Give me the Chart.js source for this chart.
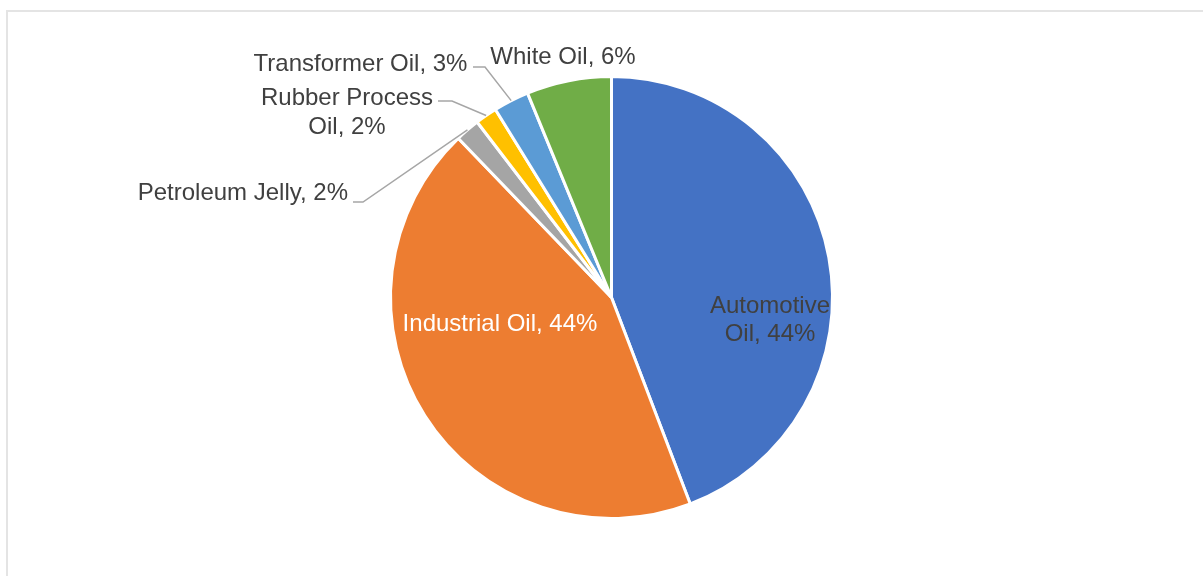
<!DOCTYPE html>
<html>
<head>
<meta charset="utf-8">
<title>Lubricant demand by application</title>
<script src="https://cdn.jsdelivr.net/npm/chart.js@4/dist/chart.umd.min.js"></script>
<style>
  html, body { margin: 0; padding: 0; background: #fff; overflow: hidden; }
  #wrap { position: relative; width: 1203px; height: 576px; overflow: hidden; }
  #frame {
    position: absolute; left: 6px; top: 10px; width: 1300px; height: 700px;
    border-left: 2px solid #e4e4e4; border-top: 2px solid #e4e4e4;
  }
  #chart { position: absolute; left: 0; top: 0; }
</style>
</head>
<body>
<div id="wrap">
  <div id="frame"></div>
  <canvas id="chart" width="1203" height="576"></canvas>
</div>
<script>
// Segment shares, clockwise from 12 o'clock
const categories = ["Automotive Oil", "Industrial Oil", "Petroleum Jelly", "Rubber Process Oil", "Transformer Oil", "White Oil"]
const shares = [44.2, 43.6, 1.8, 1.6, 2.6, 6.2]
const colors = ["#4472C4", "#ED7D31", "#A5A5A5", "#FFC000", "#5B9BD5", "#70AD47"]

// Label placement, offsets in px from the pie centre
const labelLayout = [
  { dx: 158.5, dy: 23, align: "center", color: "#404040", wrap: true },
  { dx: -111.5, dy: 26.5, align: "center", color: "#ffffff" },
  { dx: -263.5, dy: -104.5, align: "right", color: "#404040", line: [-258.5, -95.5, 10] },
  { dx: -264.5, dy: -184.5, align: "center", color: "#404040", wrap: true, line: [-173.5, -196.5, 14] },
  { dx: -251, dy: -233.5, align: "center", color: "#404040", line: [-138.5, -230.5, 12] },
  { dx: -48.5, dy: -240.5, align: "center", color: "#404040" },
]

const FONT = "24px 'Liberation Sans', Arial, sans-serif"
const LINE_H = 28.5

const sliceLabels = {
  id: "sliceLabels",
  afterDatasetsDraw(chart) {
    const ctx = chart.ctx
    const arcs = chart.getDatasetMeta(0).data
    ctx.save()
    ctx.font = FONT
    ctx.textBaseline = "middle"
    arcs.forEach((arc, i) => {
      const lay = labelLayout[i]
      const { x, y, startAngle, endAngle, outerRadius } = arc.getProps(["x", "y", "startAngle", "endAngle", "outerRadius"], true)
      const name = categories[i]
      const pct = Math.round(shares[i]) + "%"
      let lines
      if (lay.wrap) {
        const cut = name.lastIndexOf(" ")
        lines = [name.slice(0, cut), name.slice(cut + 1) + ", " + pct]
      } else {
        lines = [name + ", " + pct]
      }

      // leader line from label to the slice edge
      if (lay.line) {
        const mid = (startAngle + endAngle) / 2
        const ex = x + Math.cos(mid) * outerRadius
        const ey = y + Math.sin(mid) * outerRadius
        const sx = x + lay.line[0]
        const sy = y + lay.line[1]
        ctx.strokeStyle = "#a6a6a6"
        ctx.lineWidth = 1.5
        ctx.beginPath()
        ctx.moveTo(sx, sy)
        ctx.lineTo(sx + lay.line[2], sy)
        ctx.lineTo(ex, ey)
        ctx.stroke()
      }

      ctx.fillStyle = lay.color
      ctx.textAlign = lay.align
      const top = y + lay.dy - ((lines.length - 1) * LINE_H) / 2
      lines.forEach((t, k) => ctx.fillText(t, x + lay.dx, top + k * LINE_H))
    })
    ctx.restore()
  },
}

new Chart(document.getElementById("chart"), {
  type: "pie",
  data: {
    labels: categories,
    datasets: [
      {
        data: shares,
        backgroundColor: colors,
        borderColor: "#ffffff",
        borderWidth: 3,
      },
    ],
  },
  options: {
    responsive: false,
    animation: false,
    radius: 221,
    layout: { padding: { left: 20, right: 0, top: 19, bottom: 0 } },
    plugins: {
      legend: { display: false },
      tooltip: { enabled: false },
    },
  },
  plugins: [sliceLabels],
})
</script>
</body>
</html>
